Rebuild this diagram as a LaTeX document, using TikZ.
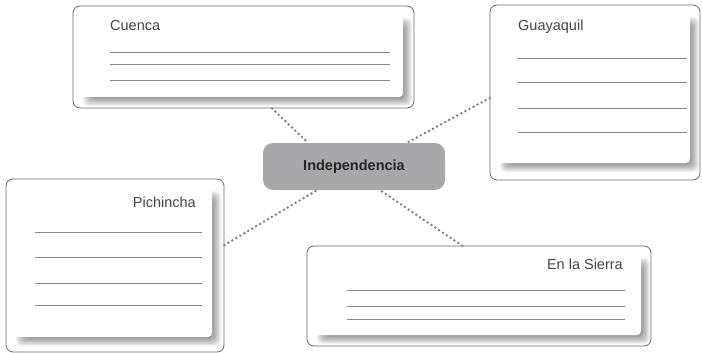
\documentclass[tikz,border=0pt]{standalone}
\usepackage{fontspec}
\setmainfont{Liberation Sans}
\usepackage{xcolor}
\definecolor{cFrame}{RGB}{105,105,105}
\definecolor{cRule}{RGB}{135,135,135}
\definecolor{cText}{RGB}{70,70,70}
\definecolor{cHub}{RGB}{168,168,170}
\definecolor{cDots}{RGB}{125,125,125}

% white sheet with a soft shadow to the lower right
\newcommand{\cardshade}[4]{%
  \foreach \e in {0,...,8}
    \fill[black, opacity=0.05, rounded corners=5] (#1+16-\e, #2+18-\e) rectangle (#3+1+\e, #4+1+\e);
  \fill[white, rounded corners=4] (#1, #2) rectangle (#3, #4);
}

\tikzset{
  card/.style={draw=cFrame, line width=0.8pt, fill=white, rounded corners=7, inner sep=0pt},
  hub/.style={fill=cHub, rounded corners=10, inner sep=0pt, minimum width=182, minimum height=47,
    font=\fontsize{14.5}{16}\selectfont\bfseries, text=black!85},
  title/.style={inner sep=0pt, font=\fontsize{14.5}{16}\selectfont, text=cText},
  rule/.style={cRule, line width=0.8pt},
  link/.style={cDots, line width=2.7pt, line cap=round, dash pattern=on 0pt off 4.6pt}
}

\begin{document}
\begin{tikzpicture}[x=1pt, y=-1pt]
        \useasboundingbox (0,0) rectangle (702,353);

        % cards
        \node[card, minimum width=341, minimum height=102] (cuenca) at (243.5, 57) {};
        \node[card, minimum width=210, minimum height=175] (guayaquil) at (595, 92.5) {};
        \node[card, minimum width=218, minimum height=173] (pichincha) at (115, 265.5) {};
        \node[card, minimum width=344, minimum height=100] (sierra) at (479, 296) {};

        \cardshade{75}{8}{403}{97}
        \cardshade{492}{7}{690}{163}
        \cardshade{8}{181}{212}{337}
        \cardshade{309}{248}{641}{335}

        % titles
        \node[title, anchor=west] (cuenca-t) at (110, 26) {Cuenca};
        \node[title, anchor=west] (guayaquil-t) at (518, 27) {Guayaquil};
        \node[title, anchor=east] (pichincha-t) at (196, 202) {Pichincha};
        \node[title, anchor=east] (sierra-t) at (623, 264) {En la Sierra};

        % writing lines
        \foreach \y in {52, 64, 80}
            \draw[rule] (110, \y) -- (390, \y);
        \foreach \y in {58, 82, 108, 132}
            \draw[rule] (518, \y) -- (687, \y);
        \foreach \y in {232, 257, 283, 305}
            \draw[rule] (35, \y) -- (202, \y);
        \foreach \y in {290, 306, 319}
            \draw[rule] (347, \y) -- (625, \y);

        % centre
        \node[hub] (indep) at (354, 166.5) {Independencia};

        \draw[link] ([xshift=28.5]cuenca.south) -- ([xshift=-46]indep.north);
        \draw[link] ([yshift=-5.5]guayaquil.west) -- ([xshift=53]indep.north);
        \draw[link] ([yshift=20.5]pichincha.east) -- ([xshift=-37]indep.south);
        \draw[link] ([xshift=-17]sierra.north) -- ([xshift=26]indep.south);
    \end{tikzpicture}
\end{document}
